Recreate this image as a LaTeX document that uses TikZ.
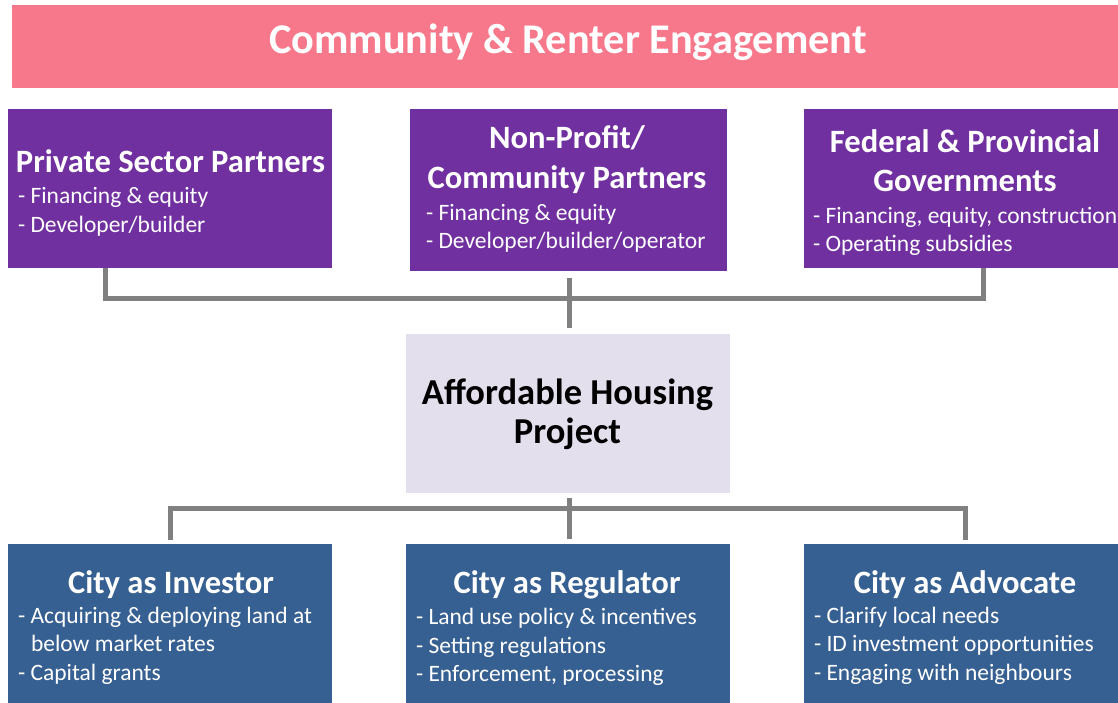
\documentclass[tikz,border=0pt]{standalone}
\usepackage{fontspec}
\setmainfont{Carlito}
\definecolor{bannerpink}{HTML}{F7778B}
\definecolor{partnerpurple}{HTML}{7030A0}
\definecolor{cityblue}{HTML}{376092}
\definecolor{projlav}{HTML}{E4DFEC}
\definecolor{conngray}{HTML}{808080}
\begin{document}
\begin{tikzpicture}[x=1pt,y=-1pt,
  box/.style={draw=none,inner sep=0pt,outer sep=0pt},
  titlefont/.style={font=\fontsize{42.3}{50}\selectfont\bfseries},
  headfont/.style={font=\fontsize{32.6}{39}\selectfont\bfseries},
  projfont/.style={font=\fontsize{36.5}{40}\selectfont\bfseries},
  bodyfont/.style={font=\fontsize{23.5}{28.5}\selectfont},
  whitetext/.style={text=white,inner sep=0pt,outer sep=0pt},
  darktext/.style={text=black,inner sep=0pt,outer sep=0pt},
  conn/.style={draw=conngray,line width=5pt}]
\useasboundingbox (0,0) rectangle (1118,702);
% boxes
\node[box,fill=bannerpink,minimum width=1112pt,minimum height=83pt] (banner) at (568,46.5) {};
\node[box,fill=partnerpurple,minimum width=324pt,minimum height=159pt] (priv) at (170,188.5) {};
\node[box,fill=partnerpurple,minimum width=317pt,minimum height=162pt] (np) at (568,190) {};
\node[box,fill=partnerpurple,minimum width=322pt,minimum height=159pt] (fed) at (965,188.5) {};
\node[box,fill=projlav,minimum width=324pt,minimum height=159pt] (ahp) at (568,413.5) {};
\node[box,fill=cityblue,minimum width=324pt,minimum height=160pt] (inv) at (170,624) {};
\node[box,fill=cityblue,minimum width=324pt,minimum height=160pt] (reg) at (568,624) {};
\node[box,fill=cityblue,minimum width=322pt,minimum height=160pt] (adv) at (965,624) {};
% connector hubs
\coordinate (tophub) at (569,298);
\coordinate (bothub) at (569,508);
% top connectors
\draw[conn] ([xshift=-65pt]priv.south) -- ([xshift=-65pt]priv.south |- tophub)
  -- ([xshift=18pt]fed.south |- tophub) -- ([xshift=18pt]fed.south);
\draw[conn] ([yshift=-7pt]np.south -| tophub) -- ([yshift=6pt]ahp.north -| tophub);
% bottom connectors
\draw[conn] ([yshift=4pt]inv.north) -- (inv.north |- bothub) -- (adv.north |- bothub) -- ([yshift=4pt]adv.north);
\draw[conn] ([yshift=-5pt]ahp.south -| bothub) -- ([yshift=5pt]reg.north -| bothub);
% texts
\node[whitetext,titlefont,anchor=base] (titletext) at (568,53) {Community \& Renter Engagement};
\node[whitetext,headfont,anchor=base] (privh) at (170.5,172) {Private Sector Partners};
\node[whitetext,bodyfont,anchor=base west] (privb1) at (18,203) {- Financing \& equity};
\node[whitetext,bodyfont,anchor=base west] (privb2) at (18,232) {- Developer/builder};
\node[whitetext,headfont,anchor=base] (nph1) at (567,148) {Non-Profit/};
\node[whitetext,headfont,anchor=base] (nph2) at (567,188) {Community Partners};
\node[whitetext,bodyfont,anchor=base west] (npb1) at (426,220) {- Financing \& equity};
\node[whitetext,bodyfont,anchor=base west] (npb2) at (426,248) {- Developer/builder/operator};
\node[whitetext,headfont,anchor=base] (fedh1) at (965,152) {Federal \& Provincial};
\node[whitetext,headfont,anchor=base] (fedh2) at (965,191) {Governments};
\node[whitetext,bodyfont,anchor=base west] (fedb1) at (813,223) {- Financing, equity, construction};
\node[whitetext,bodyfont,anchor=base west] (fedb2) at (813,251) {- Operating subsidies};
\node[darktext,projfont,anchor=base] (ahp1) at (567.5,404) {Affordable Housing};
\node[darktext,projfont,anchor=base] (ahp2) at (567.5,443) {Project};
\node[whitetext,headfont,anchor=base] (invh) at (171,593) {City as Investor};
\node[whitetext,bodyfont,anchor=base west] (invb1) at (18,623) {- Acquiring \& deploying land at};
\node[whitetext,bodyfont,anchor=base west] (invb2) at (31,651) {below market rates};
\node[whitetext,bodyfont,anchor=base west] (invb3) at (18,680) {- Capital grants};
\node[whitetext,headfont,anchor=base] (regh) at (567,593) {City as Regulator};
\node[whitetext,bodyfont,anchor=base west] (regb1) at (416,624) {- Land use policy \& incentives};
\node[whitetext,bodyfont,anchor=base west] (regb2) at (416,653) {- Setting regulations};
\node[whitetext,bodyfont,anchor=base west] (regb3) at (416,681) {- Enforcement, processing};
\node[whitetext,headfont,anchor=base] (advh) at (965,593) {City as Advocate};
\node[whitetext,bodyfont,anchor=base west] (advb1) at (814,623) {- Clarify local needs};
\node[whitetext,bodyfont,anchor=base west] (advb2) at (814,651) {- ID investment opportunities};
\node[whitetext,bodyfont,anchor=base west] (advb3) at (814,680) {- Engaging with neighbours};
\end{tikzpicture}
\end{document}
